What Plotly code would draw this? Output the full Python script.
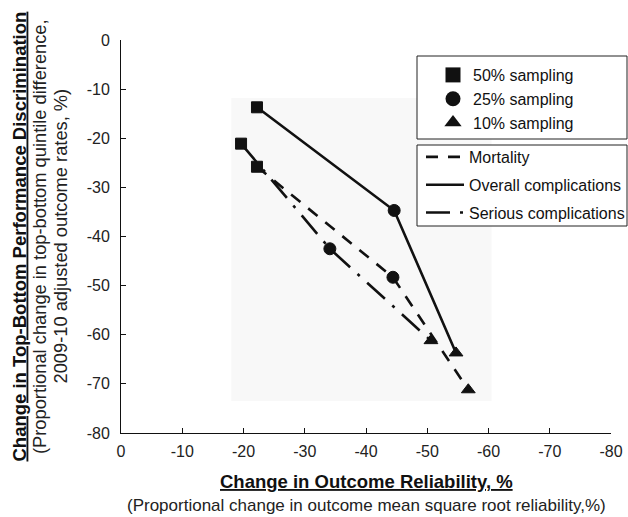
import plotly.graph_objects as go

# ---------------- data ----------------
sampling_labels = ["50% sampling", "25% sampling", "10% sampling"]
sampling_symbols = ["square", "circle", "triangle-up"]

mortality_reliability = [-22.2, -44.4, -56.7]
mortality_discrimination = [-25.8, -48.3, -71.2]

overall_reliability = [-22.2, -44.6, -54.7]
overall_discrimination = [-13.7, -34.7, -63.7]

serious_reliability = [-19.6, -34.1, -50.6]
serious_discrimination = [-21.1, -42.5, -61.2]

x_ticks = [0, -10, -20, -30, -40, -50, -60, -70, -80]
y_ticks = [0, -10, -20, -30, -40, -50, -60, -70, -80]

FONT = "Liberation Sans, Arial, Helvetica, sans-serif"
INK = "#111111"

fig = go.Figure()

series = [
    ("Mortality", mortality_reliability, mortality_discrimination, "12px,10px"),
    ("Overall complications", overall_reliability, overall_discrimination, "solid"),
    ("Serious complications", serious_reliability, serious_discrimination, "24px,10px,3px,10px"),
]

for name, xs, ys, dash in series:
    fig.add_trace(go.Scatter(
        x=xs, y=ys, mode="lines+markers", name=name,
        line=dict(color=INK, width=2.6, dash=dash),
        marker=dict(symbol=sampling_symbols, size=[11, 12, 12], color=INK,
                    opacity=1, line=dict(color=INK, width=1)),
        showlegend=False, hoverinfo="skip",
    ))

# legend 1: sampling markers
for lab, sym in zip(sampling_labels, sampling_symbols):
    fig.add_trace(go.Scatter(
        x=[None], y=[None], mode="markers", name=lab,
        marker=dict(symbol=sym, size=15, color=INK),
        legend="legend",
    ))

# legend 2: line styles
for i, (name, xs, ys, dash) in enumerate(series):
    fig.add_trace(go.Scatter(
        x=[None], y=[None], mode="lines", name=name,
        line=dict(color=INK, width=2.6, dash=dash),
        legend="legend2", legendgroup="g%d" % i,
    ))

L, R, T, B = 121, 17, 40, 84
W, H = 628, 517
pw, ph = W - L - R, H - T - B

def px(xp):
    return (xp - L) / pw

def py(yp):
    return (H - B - yp) / ph

shapes = [
    # faint grey backdrop
    dict(type="rect", xref="x", yref="y", x0=-18, x1=-60.5, y0=-11.8, y1=-73.5,
         fillcolor="#f8f8f8", line=dict(width=0), layer="below"),
    # legend boxes
    dict(type="rect", xref="paper", yref="paper", x0=px(417), x1=px(627),
         y0=py(139), y1=py(56), line=dict(color="#222", width=1), fillcolor="white"),
    dict(type="rect", xref="paper", yref="paper", x0=px(417), x1=px(627),
         y0=py(226), y1=py(145), line=dict(color="#222", width=1), fillcolor="white"),
]

annotations = [
    dict(text="<b><u>Change in Top-Bottom Performance Discrimination</u></b>",
         x=px(19), y=0.5, xref="paper", yref="paper", textangle=-90,
         showarrow=False, xanchor="center", yanchor="middle",
         font=dict(size=18.5, color="#111", family=FONT)),
    dict(text="(Proportional change in top-bottom quintile difference,",
         x=px(39.5), y=0.5, xref="paper", yref="paper", textangle=-90,
         showarrow=False, xanchor="center", yanchor="middle",
         font=dict(size=18.3, color="#222", family=FONT)),
    dict(text="2009-10 adjusted outcome rates, %)",
         x=px(60), y=0.5, xref="paper", yref="paper", textangle=-90,
         showarrow=False, xanchor="center", yanchor="middle",
         font=dict(size=18.3, color="#222", family=FONT)),
    dict(text="<b><u>Change in Outcome Reliability, %</u></b>",
         x=0.5, y=py(481), xref="paper", yref="paper",
         showarrow=False, xanchor="center", yanchor="middle",
         font=dict(size=18.5, color="#111", family=FONT)),
    dict(text="(Proportional change in outcome mean square root reliability,%)",
         x=0.5, y=py(505), xref="paper", yref="paper",
         showarrow=False, xanchor="center", yanchor="middle",
         font=dict(size=17, color="#222", family=FONT)),
]

axis_common = dict(
    showgrid=False, zeroline=False, showline=True, linecolor="#111", linewidth=1,
    ticks="inside", ticklen=5, tickcolor="#111", automargin=False,
    tickfont=dict(size=16, color="#222", family=FONT),
)

fig.update_layout(
    width=W, height=H,
    margin=dict(l=L, r=R, t=T, b=B, autoexpand=False),
    paper_bgcolor="white", plot_bgcolor="white",
    font=dict(family=FONT, color="#111"),
    xaxis=dict(range=[0, -80], tickvals=x_ticks, ticktext=[str(v) for v in x_ticks],
               ticklabelstandoff=4, **axis_common),
    yaxis=dict(range=[-80, 0], tickvals=y_ticks, ticktext=[str(v) for v in y_ticks],
               ticklabelstandoff=7, **axis_common),
    shapes=shapes,
    annotations=annotations,
    legend=dict(x=px(415), y=py(58), xanchor="left", yanchor="top",
                bgcolor="rgba(0,0,0,0)", borderwidth=0, indentation=18,
                font=dict(size=16, color="#111", family=FONT), tracegroupgap=0),
    legend2=dict(x=px(421), y=py(140), xanchor="left", yanchor="top",
                 bgcolor="rgba(0,0,0,0)", borderwidth=0, itemwidth=38,
                 font=dict(size=16, color="#111", family=FONT), tracegroupgap=4),
)

fig.write_html("out.html", config={"displayModeBar": False},
               post_script="document.body.style.margin='0';document.body.style.overflow='hidden';")
